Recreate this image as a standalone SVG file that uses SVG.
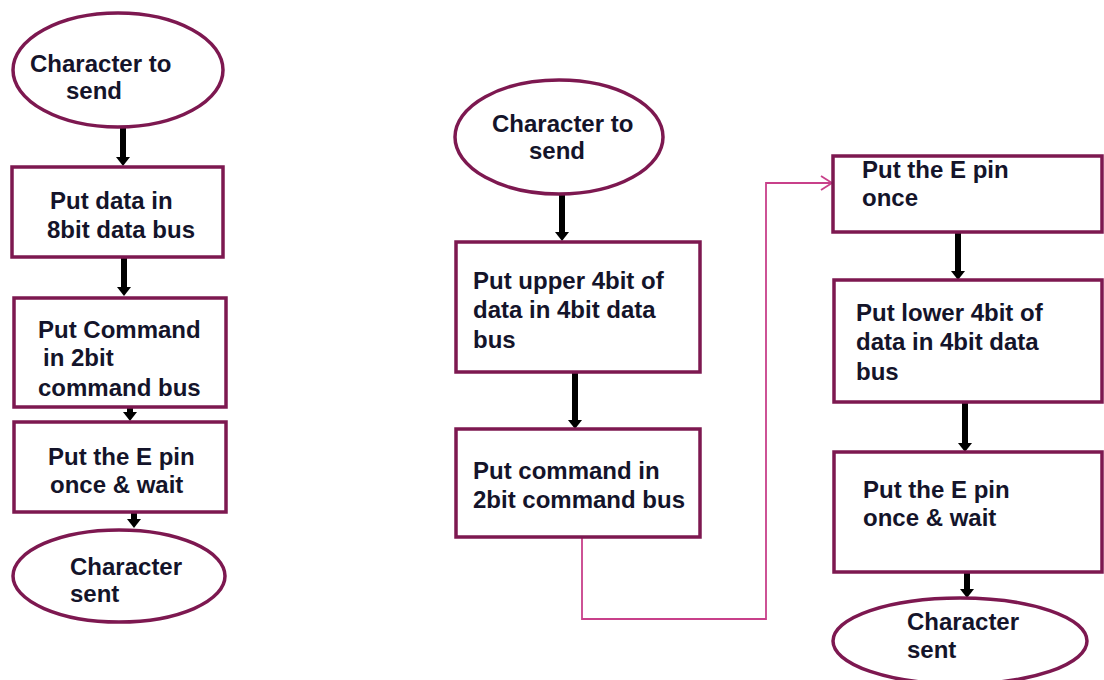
<svg xmlns="http://www.w3.org/2000/svg" width="1104" height="680" viewBox="0 0 1104 680">
<defs>
<style>
.n{fill:#fff;stroke:#7d1850;stroke-width:3.5}
.t{font-family:"Liberation Sans",Arial,sans-serif;font-weight:bold;font-size:24px;fill:#14142a}
.a{stroke:#000;stroke-width:6;fill:none}
.p{stroke:#c8408a;stroke-width:1.8;fill:none}
</style>
<marker id="ah" markerUnits="userSpaceOnUse" markerWidth="10" markerHeight="16" viewBox="0 0 10 16" refX="2" refY="8" orient="auto">
<path d="M0,1 L9,8 L0,15 z" fill="#000"/>
</marker>
</defs>
<rect width="1104" height="680" fill="#fff"/>
<g id="connectors">
<line class="a" x1="123" y1="128" x2="123" y2="159" marker-end="url(#ah)"/>
<line class="a" x1="124" y1="258" x2="124" y2="289" marker-end="url(#ah)"/>
<line class="a" x1="130" y1="407" x2="130" y2="414" marker-end="url(#ah)"/>
<line class="a" x1="134" y1="512" x2="134" y2="521" marker-end="url(#ah)"/>
<line class="a" x1="562" y1="194" x2="562" y2="234" marker-end="url(#ah)"/>
<line class="a" x1="575" y1="373" x2="575" y2="422" marker-end="url(#ah)"/>
<line class="a" x1="958" y1="233" x2="958" y2="273" marker-end="url(#ah)"/>
<line class="a" x1="965" y1="403" x2="965" y2="445" marker-end="url(#ah)"/>
<line class="a" x1="967" y1="573" x2="967" y2="591" marker-end="url(#ah)"/>
<polyline class="p" points="582,538 582,619 766,619 766,183 832,183"/>
<polyline class="p" points="821,176 832,183 821,190"/>
</g>
<g id="start1">
<ellipse class="n" cx="118" cy="70" rx="105" ry="57"/>
<text class="t" x="30" y="72">Character to</text>
<text class="t" x="66" y="99">send</text>
</g>
<g id="data8">
<rect class="n" x="12" y="167" width="211" height="90"/>
<text class="t" x="50" y="209">Put data in</text>
<text class="t" x="47" y="238">8bit data bus</text>
</g>
<g id="cmd2">
<rect class="n" x="14" y="298" width="212" height="109"/>
<text class="t" x="38" y="338">Put Command</text>
<text class="t" x="43" y="366">in 2bit</text>
<text class="t" x="38" y="396">command bus</text>
</g>
<g id="epin1">
<rect class="n" x="14" y="422" width="212" height="90"/>
<text class="t" x="48" y="465">Put the E pin</text>
<text class="t" x="50" y="493">once &amp; wait</text>
</g>
<g id="sent1">
<ellipse class="n" cx="119" cy="576" rx="106" ry="46"/>
<text class="t" x="70" y="575">Character</text>
<text class="t" x="70" y="602">sent</text>
</g>
<g id="start2">
<ellipse class="n" cx="559" cy="137" rx="104" ry="57"/>
<text class="t" x="492" y="132">Character to</text>
<text class="t" x="529" y="159">send</text>
</g>
<g id="upper4">
<rect class="n" x="456" y="242" width="244" height="130"/>
<text class="t" x="473" y="289">Put upper 4bit of</text>
<text class="t" x="473" y="318">data in 4bit data</text>
<text class="t" x="473" y="348">bus</text>
</g>
<g id="cmdbus">
<rect class="n" x="456" y="429" width="244" height="108"/>
<text class="t" x="473" y="479">Put command in</text>
<text class="t" x="473" y="508">2bit command bus</text>
</g>
<g id="epinonce">
<rect class="n" x="833" y="156" width="269" height="76"/>
<text class="t" x="862" y="178">Put the E pin</text>
<text class="t" x="862" y="206">once</text>
</g>
<g id="lower4">
<rect class="n" x="834" y="280" width="268" height="122"/>
<text class="t" x="856" y="321">Put lower 4bit of</text>
<text class="t" x="856" y="350">data in 4bit data</text>
<text class="t" x="856" y="380">bus</text>
</g>
<g id="epin2">
<rect class="n" x="834" y="452" width="268" height="120"/>
<text class="t" x="863" y="498">Put the E pin</text>
<text class="t" x="863" y="526">once &amp; wait</text>
</g>
<g id="sent2">
<ellipse class="n" cx="960" cy="641" rx="127" ry="43"/>
<text class="t" x="907" y="630">Character</text>
<text class="t" x="907" y="658">sent</text>
</g>
</svg>
